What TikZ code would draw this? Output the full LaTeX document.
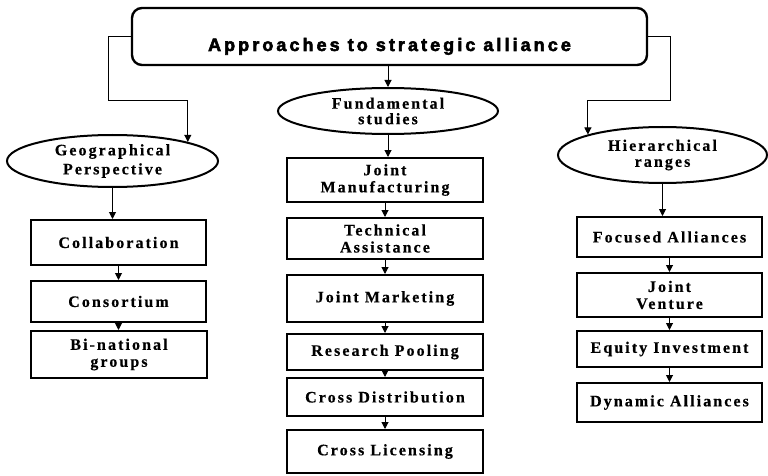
\documentclass[tikz,border=0pt]{standalone}
\usepackage{fontspec}
\setmainfont{Liberation Serif}
\newfontfamily\boxfont[LetterSpace=13,FakeBold=0.4]{Liberation Serif}
\newfontfamily\titlefont[LetterSpace=17,FakeBold=3]{Liberation Sans}
\usetikzlibrary{arrows.meta,shapes.geometric}
\tikzset{
  stepbox/.style={draw, line width=2pt, rectangle, inner sep=0pt, align=center,
    font=\boxfont\bfseries\fontsize{16}{17}\selectfont},
  oval/.style={draw, line width=2pt, ellipse, inner sep=0pt, align=center,
    font=\boxfont\bfseries\fontsize{16}{17}\selectfont},
  arr/.style={line width=1pt, -{Triangle[length=7pt,width=7pt]}},
  conn/.style={line width=0.9pt, -{Triangle[length=7pt,width=7pt]}},
}
\begin{document}
\begin{tikzpicture}[x=1pt,y=-1pt]
\useasboundingbox (0,0) rectangle (768,476);

% title
\node[draw, line width=2.4pt, rounded corners=10pt, minimum width=515pt, minimum height=57pt,
      inner sep=0pt, text height=30pt, text depth=1pt,
      font=\titlefont\bfseries\fontsize{18}{20}\selectfont] (title) at (389.5,36.5)
      {Approaches to strategic alliance};

% left column
\node[oval, minimum width=211pt, minimum height=52pt,
      font=\boxfont\bfseries\fontsize{16}{19}\selectfont] (geo) at (112.5,161) {Geographical\\Perspective};
\node[stepbox, minimum width=175pt, minimum height=45pt] (collab) at (118.5,242.5) {Collaboration};
\node[stepbox, minimum width=175pt, minimum height=41pt] (consort) at (118.5,301.5) {Consortium};
\node[stepbox, minimum width=176pt, minimum height=47pt] (binat) at (119,354.5) {Bi-national\\groups};

% middle column
\node[oval, minimum width=220pt, minimum height=46pt,
      font=\boxfont\bfseries\fontsize{16}{15.5}\selectfont] (fund) at (388,111) {Fundamental\\studies};
\node[stepbox, minimum width=196pt, minimum height=44pt] (jman) at (385,180) {Joint\\Manufacturing};
\node[stepbox, minimum width=196pt, minimum height=41pt] (tech) at (385,238.5) {Technical\\Assistance};
\node[stepbox, minimum width=196pt, minimum height=47pt] (jmark) at (385,298.5) {Joint Marketing};
\node[stepbox, minimum width=196pt, minimum height=36pt] (rpool) at (385,352) {Research Pooling};
\node[stepbox, minimum width=196pt, minimum height=38pt] (cdist) at (385,397) {Cross Distribution};
\node[stepbox, minimum width=196pt, minimum height=43pt] (clic) at (385,451.5) {Cross Licensing};

% right column
\node[oval, minimum width=209pt, minimum height=56pt,
      font=\boxfont\bfseries\fontsize{16}{16}\selectfont] (hier) at (662.5,155) {Hierarchical\\ranges};
\node[stepbox, minimum width=185pt, minimum height=40pt] (focus) at (669.5,237) {Focused Alliances};
\node[stepbox, minimum width=185pt, minimum height=44pt] (jvent) at (669.5,295) {Joint\\Venture};
\node[stepbox, minimum width=185pt, minimum height=36pt] (equity) at (669.5,349) {Equity Investment};
\node[stepbox, minimum width=185pt, minimum height=39pt] (dyn) at (669.5,402.5) {Dynamic Alliances};

% connectors from title
\coordinate (lc) at (108,100);
\coordinate (rc) at (670,100);
\draw[conn] (title.west) -| (lc) -| (geo.north east);
\draw[conn] (title.east) -| (rc) -| (hier.north west);
\draw[arr] (title.south -| fund.north) -- (fund.north);

% left chain
\draw[arr] (geo.south) -- (geo.south |- collab.north);
\draw[arr] (collab.south) -- (consort.north);
\draw[arr] (consort.south) -- (binat.north -| consort.south);

% middle chain
\draw[arr] (fund.south) -- (fund.south |- jman.north);
\draw[arr] (jman.south) -- (tech.north);
\draw[arr] (tech.south) -- (jmark.north);
\draw[arr] (jmark.south) -- (rpool.north);
\draw[arr] (rpool.south) -- (cdist.north);
\draw[arr] (cdist.south) -- (clic.north);

% right chain
\draw[arr] (hier.south) -- (hier.south |- focus.north);
\draw[arr] (focus.south) -- (jvent.north);
\draw[arr] (jvent.south) -- (equity.north);
\draw[arr] (equity.south) -- (dyn.north);
\end{tikzpicture}
\end{document}
